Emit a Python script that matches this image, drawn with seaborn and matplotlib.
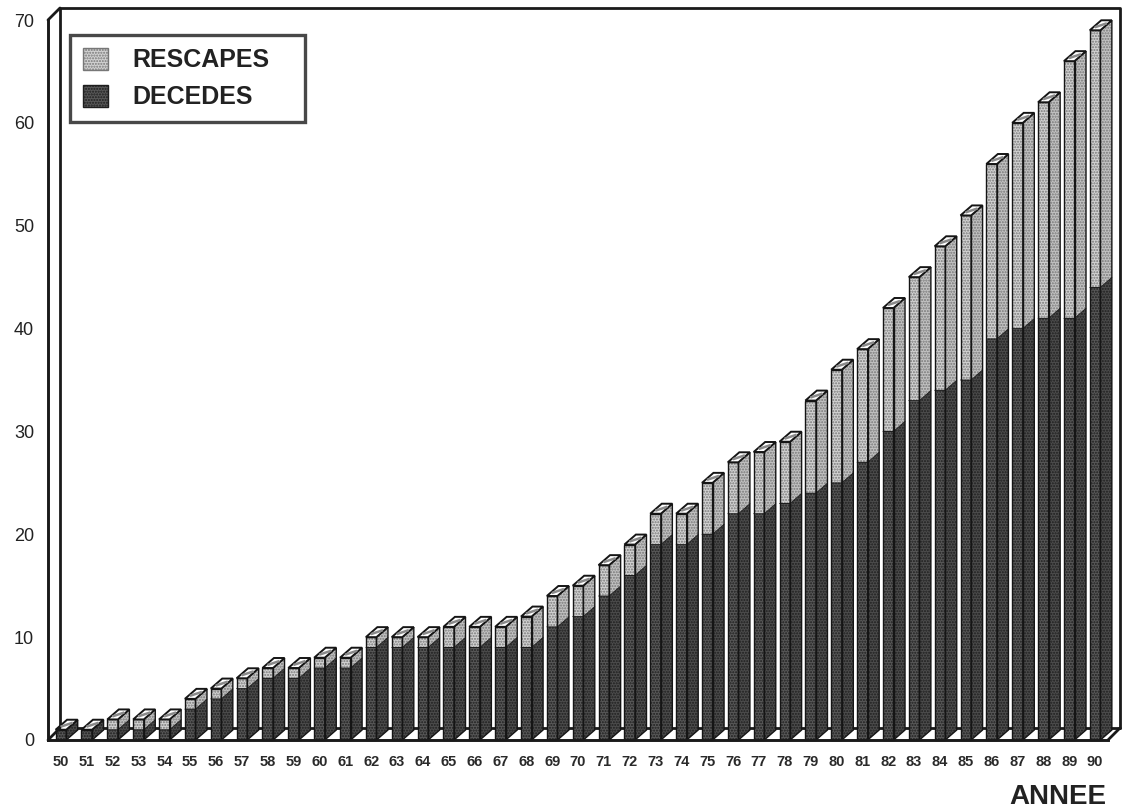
import matplotlib
matplotlib.use("Agg")
import matplotlib.pyplot as plt
import matplotlib.transforms as mtransforms
from matplotlib.patches import Polygon, Patch
import numpy as np
import seaborn as sns

# ---- data -------------------------------------------------------------
annees = [str(y) for y in range(50, 91)]
deces = [1, 1, 1, 1, 1, 3, 4, 5, 6, 6, 7, 7, 9, 9, 9, 9, 9, 9, 9, 11, 12,
         14, 16, 19, 19, 20, 22, 22, 23, 24, 25, 27, 30, 33, 34, 35, 39, 40,
         41, 41, 44]
rescapes = [0, 0, 1, 1, 1, 1, 1, 1, 1, 1, 1, 1, 1, 1, 1, 2, 2, 2, 3, 3, 3,
            3, 3, 3, 3, 5, 5, 6, 6, 9, 11, 11, 12, 12, 14, 16, 17, 20, 21,
            25, 25]
y_ticks = [0, 10, 20, 30, 40, 50, 60, 70]
serie_labels = ["RESCAPES", "DECEDES"]
x_title = "ANNEE"

totaux = [d + r for d, r in zip(deces, rescapes)]

# ---- style ------------------------------------------------------------
sns.set_style("white")
plt.rcParams["font.family"] = ["Liberation Sans", "DejaVu Sans"]
plt.rcParams["hatch.linewidth"] = 1.0

LIGHT_FACE, LIGHT_DOT, LIGHT_SIDE = "#d2d2d2", "#777777", "#c2c2c2"
DARK_FACE, DARK_DOT, DARK_SIDE = "#585858", "#1e1e1e", "#4c4c4c"
OUTLINE = "#151515"
HATCH = "......"

W, H, DPI = 1122, 811, 100
fig = plt.figure(figsize=(W / DPI, H / DPI), dpi=DPI)
left, right, bottom, top = 48, 1108, 740, 20
ax = fig.add_axes([left / W, 1 - bottom / H, (right - left) / W, (bottom - top) / H])

BAR_W = 0.41
sns.barplot(x=annees, y=totaux, color=LIGHT_FACE, saturation=1, width=BAR_W,
            errorbar=None, ax=ax, zorder=3)
n_light = len(ax.patches)
sns.barplot(x=annees, y=deces, color=DARK_FACE, saturation=1, width=BAR_W,
            errorbar=None, ax=ax, zorder=4)

ax.set_xlim(-0.5, len(annees) - 0.55)
ax.set_ylim(0, 70)

# depth of the bars, expressed in data units
px_x = (right - left) / (ax.get_xlim()[1] - ax.get_xlim()[0])
px_y = (bottom - top) / 70.0
DX, DY = 11.5 / px_x, 10.0 / px_y


def hatched(patch, face, dot):
    patch.set_facecolor(face)
    patch.set_edgecolor(dot)
    patch.set_linewidth(0)
    patch.set_hatch(HATCH)


def outline(xy, z, lw=1.0):
    ax.add_patch(Polygon(xy, closed=True, fill=False, edgecolor=OUTLINE,
                         linewidth=lw, zorder=z, clip_on=False))


light_bars = ax.patches[:n_light]
dark_bars = ax.patches[n_light:n_light * 2]

for lb, db in zip(light_bars, dark_bars):
    x0 = lb.get_x()
    x1 = x0 + lb.get_width()
    t = lb.get_height()
    d = db.get_height()
    hatched(lb, LIGHT_FACE, LIGHT_DOT)
    hatched(db, DARK_FACE, DARK_DOT)
    lb.set_clip_on(False)
    db.set_clip_on(False)
    # side faces
    dark_side = Polygon([(x1, 0), (x1 + DX, DY), (x1 + DX, d + DY), (x1, d)],
                        closed=True, zorder=3, clip_on=False)
    hatched(dark_side, DARK_SIDE, DARK_DOT)
    ax.add_patch(dark_side)
    if t > d:
        light_side = Polygon([(x1, d), (x1 + DX, d + DY), (x1 + DX, t + DY), (x1, t)],
                             closed=True, zorder=3, clip_on=False)
        hatched(light_side, LIGHT_SIDE, LIGHT_DOT)
        ax.add_patch(light_side)
    # outlines of front and side
    outline([(x0, 0), (x1, 0), (x1, t), (x0, t)], 6)
    outline([(x1, 0), (x1 + DX, DY), (x1 + DX, t + DY), (x1, t)], 6)
    if 0 < d < t:
        ax.plot([x0, x1, x1 + DX], [d, d, d + DY], color=OUTLINE, lw=0.6,
                zorder=6, clip_on=False)
    # cap
    cap = [(x0, t), (x1, t), (x1 + DX, t + DY), (x0 + DX, t + DY)]
    ax.add_patch(Polygon(cap, closed=True, facecolor="white", edgecolor=OUTLINE,
                         linewidth=1.4, zorder=7, clip_on=False))
    ax.plot([x0 + DX * 0.3 + 0.06, x1 + DX * 0.7 - 0.06],
            [t + DY * 0.3, t + DY * 0.7],
            color="#8a8a8a", lw=1.8, zorder=8, clip_on=False, solid_capstyle="butt")

# ---- box walls --------------------------------------------------------
off = mtransforms.ScaledTranslation(12 / DPI, 12 / DPI, fig.dpi_scale_trans)
back = ax.transAxes + off
wall_kw = dict(color="#1a1a1a", lw=2.0, clip_on=False)
ax.plot([0, 0, 1, 1], [0, 1, 1, 0], transform=back, zorder=1, **wall_kw)
ax.plot([0, 1], [0, 0], transform=back, zorder=1, **wall_kw)
for xa, ya in [(0, 1), (1, 0), (0, 0)]:
    p0 = ax.transAxes.transform((xa, ya))
    p1 = back.transform((xa, ya))
    fig.add_artist(plt.Line2D([p0[0] / W, p1[0] / W], [p0[1] / H, p1[1] / H],
                              transform=fig.transFigure, color="#1a1a1a", lw=2.0))

sns.despine(ax=ax, top=True, right=True)
for side in ("left", "bottom"):
    ax.spines[side].set_linewidth(2.1)
    ax.spines[side].set_color("#1a1a1a")
    ax.spines[side].set_zorder(9)

# ---- ticks ------------------------------------------------------------
ax.set_yticks(y_ticks)
ax.set_yticklabels([str(v) for v in y_ticks], fontsize=13, color="#222")
ax.tick_params(axis="y", direction="out", length=6, width=1.5, pad=4, color="#1a1a1a")
ax.set_xticks(range(len(annees)))
ax.set_xticklabels(annees, fontsize=10.5, fontweight="bold", color="#2a2a2a")
ax.tick_params(axis="x", which="major", length=0, pad=11)
ax.set_xticks(np.arange(len(annees)) + 0.5, minor=True)
ax.tick_params(axis="x", which="minor", direction="out", length=4, width=1.3,
               color="#1a1a1a")
ax.set_xlabel("")
ax.set_ylabel("")

fig.text((right - 2) / W, 1 - 797 / H, x_title, ha="right", va="center",
         fontsize=20, fontweight="bold", color="#222")

# ---- legend -----------------------------------------------------------
handles = [Patch(facecolor=LIGHT_FACE, edgecolor=LIGHT_DOT, hatch=HATCH),
           Patch(facecolor=DARK_FACE, edgecolor=DARK_DOT, hatch=HATCH)]
leg = fig.legend(handles, serie_labels, loc="upper left",
                 bbox_to_anchor=(70 / W, 1 - 125 / H, 235 / W, 90 / H),
                 bbox_transform=fig.transFigure, mode="expand",
                 prop=dict(size=18, weight="bold"), frameon=True, fancybox=False,
                 handlelength=1.0, handleheight=1.0, handletextpad=1.0,
                 labelspacing=0.5, borderpad=0.5, borderaxespad=0)
leg.get_frame().set_edgecolor("#1a1a1a")
leg.get_frame().set_linewidth(2.4)
for txt in leg.get_texts():
    txt.set_color("#222")

fig.savefig("out.png", dpi=DPI)
